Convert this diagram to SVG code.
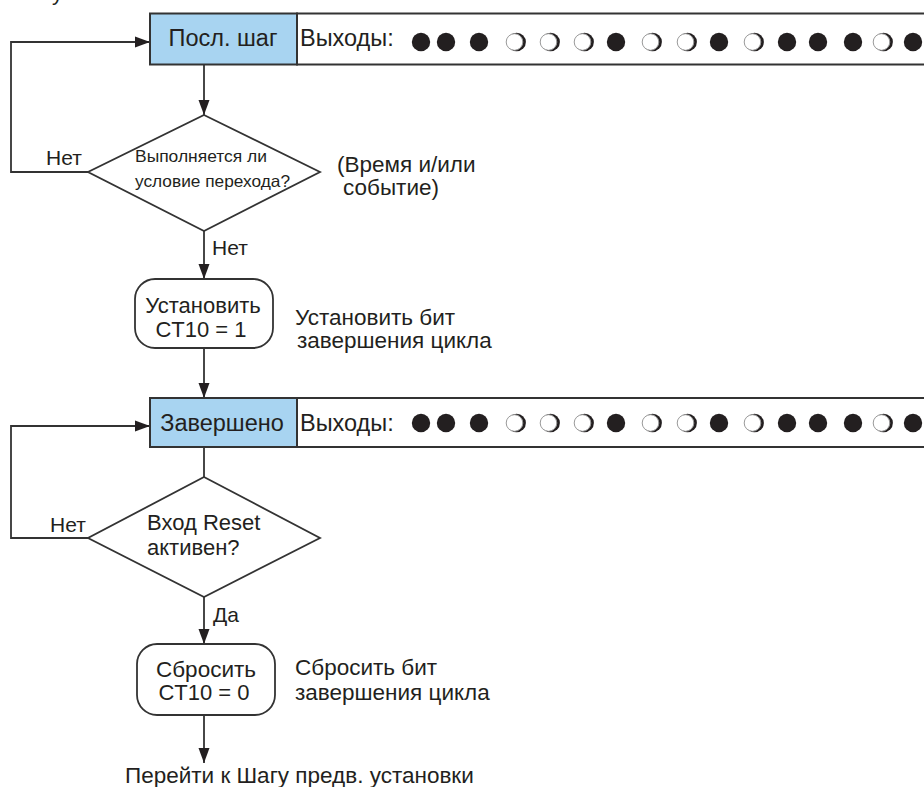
<svg xmlns="http://www.w3.org/2000/svg" xmlns:xlink="http://www.w3.org/1999/xlink" width="924" height="787" viewBox="0 0 924 787">
  <style>
    .t { font-family: "Liberation Sans", Arial, sans-serif; font-size: 22px; fill: #231f20; }
    .small { font-size: 16.5px; }
    .lbl { font-size: 21px; }
    .side { font-size: 22.5px; }
    .head { font-size: 23.5px; }
    .mid { text-anchor: middle; }
    .step { fill: #a8d4f1; stroke: #333; stroke-width: 2; }
    .outs { fill: #ffffff; stroke: #333; stroke-width: 2; }
    .shape { fill: #ffffff; stroke: #333; stroke-width: 1.8; }
    .wire { fill: none; stroke: #333; stroke-width: 1.8; }
    .arrow { marker-end: url(#head); }
  </style>
  <defs>
    <marker id="head" markerUnits="userSpaceOnUse" markerWidth="16" markerHeight="12" refX="15" refY="6" orient="auto">
      <path d="M0,0.5 L15,6 L0,11.5 z" fill="#231f20"/>
    </marker>
    <!-- output state indicators -->
    <circle id="on" r="9.2" fill="#231f20"/>
    <g id="off">
      <circle cx="1.6" r="9.3" fill="#231f20"/>
      <circle cx="-0.5" r="8.3" fill="#ffffff" stroke="#9a9a9a" stroke-width="1"/>
    </g>
  </defs>

  <rect width="924" height="787" fill="#ffffff"/>

  <!-- glyph tail at the top edge -->
  <text class="t" x="52" y="-0.5">у</text>

  <!-- connectors -->
  <g id="connectors">
    <path class="wire arrow" d="M88,172 H11 V42 H150"/>
    <path class="wire arrow" d="M204,64 V115"/>
    <path class="wire arrow" d="M204,231 V279"/>
    <path class="wire arrow" d="M204,348 V398"/>
    <path class="wire arrow" d="M88,538 H11 V426 H150"/>
    <path class="wire" d="M204,447 V477"/>
    <path class="wire arrow" d="M204,597 V644"/>
    <path class="wire arrow" d="M204,715 V763"/>
  </g>

  <!-- step: last step -->
  <g id="step-last">
    <rect class="outs" x="297" y="13.5" width="640" height="51"/>
    <rect class="step" x="150" y="13.5" width="147" height="51"/>
    <text class="t head mid" x="223" y="46">Посл. шаг</text>
    <text class="t head" x="300" y="46">Выходы:</text>
    <g transform="translate(0,42)">
      <use xlink:href="#on" x="421"/>
      <use xlink:href="#on" x="446"/>
      <use xlink:href="#on" x="479"/>
      <use xlink:href="#off" x="515"/>
      <use xlink:href="#off" x="549"/>
      <use xlink:href="#off" x="583"/>
      <use xlink:href="#on" x="616"/>
      <use xlink:href="#off" x="651"/>
      <use xlink:href="#off" x="686"/>
      <use xlink:href="#on" x="719"/>
      <use xlink:href="#off" x="753"/>
      <use xlink:href="#on" x="787"/>
      <use xlink:href="#on" x="818"/>
      <use xlink:href="#on" x="853"/>
      <use xlink:href="#off" x="882"/>
      <use xlink:href="#on" x="913"/>
    </g>
  </g>

  <!-- decision: transition condition -->
  <g id="cond-transition">
    <polygon class="shape" points="204,115 320,172 204,231 88,172"/>
    <text class="t small" x="135" y="162" textLength="132" lengthAdjust="spacingAndGlyphs">Выполняется ли</text>
    <text class="t small" x="135" y="187" textLength="155" lengthAdjust="spacingAndGlyphs">условие перехода?</text>
    <text class="t lbl" x="46" y="165">Нет</text>
    <text class="t lbl" x="212" y="255">Нет</text>
    <text class="t side" x="337" y="172">(Время и/или</text>
    <text class="t side" x="343" y="195">событие)</text>
  </g>

  <!-- action: set done bit -->
  <g id="set-ct10">
    <rect class="shape" x="135" y="279" width="138" height="69" rx="20" ry="20"/>
    <text class="t mid" x="203" y="313">Установить</text>
    <text class="t mid" x="201" y="337">CT10 = 1</text>
    <text class="t side" x="295" y="325">Установить бит</text>
    <text class="t side" x="297" y="348">завершения цикла</text>
  </g>

  <!-- step: done -->
  <g id="step-done">
    <rect class="outs" x="297" y="398" width="640" height="49"/>
    <rect class="step" x="150" y="398" width="147" height="49"/>
    <text class="t head mid" x="222" y="431">Завершено</text>
    <text class="t head" x="300" y="431">Выходы:</text>
    <g transform="translate(0,423)">
      <use xlink:href="#on" x="421"/>
      <use xlink:href="#on" x="446"/>
      <use xlink:href="#on" x="479"/>
      <use xlink:href="#off" x="515"/>
      <use xlink:href="#off" x="549"/>
      <use xlink:href="#off" x="583"/>
      <use xlink:href="#on" x="616"/>
      <use xlink:href="#off" x="651"/>
      <use xlink:href="#off" x="686"/>
      <use xlink:href="#on" x="719"/>
      <use xlink:href="#off" x="753"/>
      <use xlink:href="#on" x="787"/>
      <use xlink:href="#on" x="818"/>
      <use xlink:href="#on" x="853"/>
      <use xlink:href="#off" x="882"/>
      <use xlink:href="#on" x="913"/>
    </g>
  </g>

  <!-- decision: reset input -->
  <g id="cond-reset">
    <polygon class="shape" points="204,477 320,538 204,597 88,538"/>
    <text class="t" x="147" y="530">Вход Reset</text>
    <text class="t" x="147" y="555">активен?</text>
    <text class="t lbl" x="50" y="532">Нет</text>
    <text class="t lbl" x="213" y="622">Да</text>
  </g>

  <!-- action: clear done bit -->
  <g id="reset-ct10">
    <rect class="shape" x="137" y="644" width="138" height="71" rx="20" ry="20"/>
    <text class="t side mid" x="206" y="677">Сбросить</text>
    <text class="t mid" x="204" y="700">CT10 = 0</text>
    <text class="t side" x="295" y="675">Сбросить бит</text>
    <text class="t side" x="295" y="700">завершения цикла</text>
  </g>

  <!-- exit -->
  <g id="goto-preset">
    <text class="t side" x="125" y="783">Перейти к Шагу предв. установки</text>
  </g>
</svg>
